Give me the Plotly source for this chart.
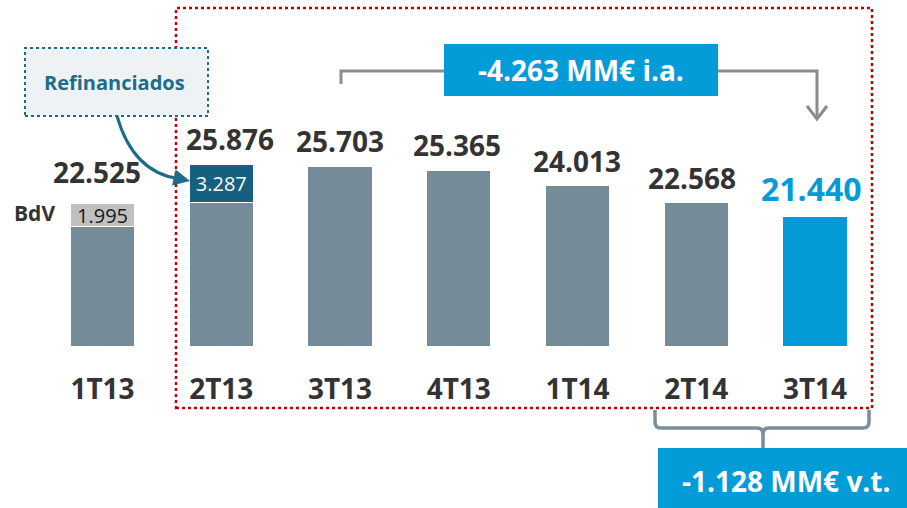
import plotly.graph_objects as go

# ---------------- data ----------------
categories = ["1T13", "2T13", "3T13", "4T13", "1T14", "2T14", "3T14"]
totals = [22525, 25876, 25703, 25365, 24013, 22568, 21440]          # MM€ (millions)
segment_values = [1995, 3287, 0, 0, 0, 0, 0]                        # BdV / Refinanciados
segment_labels = ["1.995", "3.287", "", "", "", "", ""]
yoy_label = "-4.263 MM€ i.a."
qoq_label = "-1.128 MM€ v.t."
refin_label = "Refinanciados"
bdv_label = "BdV"

# ---------------- styles ----------------
W, H = 907, 508
BOTTOM = 346                      # pixel of axis baseline
Y0 = 10350                        # value at baseline
PX_PER_UNIT = 11.72 / 1000
X0_PX, STEP_PX = 102.5, 118.75

GRAY_BAR = "#758c98"
BLUE = "#039bd8"
DARK_TEAL = "#16607f"
LIGHT_GRAY = "#c0c0c0"
TXT = "#333333"
FONT = "Open Sans"

def fmt(v):
    return f"{v:,}".replace(",", ".")

def px(x):
    return x / W

def py(y):
    return (BOTTOM - y) / BOTTOM

main_vals = [t - s for t, s in zip(totals, segment_values)]
main_colors = [GRAY_BAR] * 6 + [BLUE]
seg_colors = [LIGHT_GRAY, DARK_TEAL] + [GRAY_BAR] * 5
seg_text_colors = ["#1a1a1a", "white"] + ["white"] * 5
xs = list(range(len(categories)))

fig = go.Figure()
fig.add_trace(go.Bar(
    x=xs, y=main_vals, width=0.54,
    marker=dict(color=main_colors, line=dict(color="white", width=1)),
    hoverinfo="skip", showlegend=False,
))
fig.add_trace(go.Bar(
    x=xs, y=segment_values, width=0.54,
    marker=dict(color=seg_colors, line=dict(color="white", width=1)),
    text=segment_labels, textposition="inside", insidetextanchor="middle",
    constraintext="none",
    textfont=dict(family=FONT, size=20, color=seg_text_colors),
    hoverinfo="skip", showlegend=False,
))

annotations = []
x_shifts = [-6, 9, 0, -2, -1, -4, -4]
y_shifts = [10, 4, 4, 4, 4, 4, 4]
for i, t in enumerate(totals):
    last = i == len(totals) - 1
    annotations.append(dict(
        x=i, y=t, xref="x", yref="y", text=f"<b>{fmt(t)}</b>", showarrow=False,
        yanchor="bottom", xanchor="center", xshift=x_shifts[i], yshift=y_shifts[i],
        font=dict(family=FONT, size=32 if last else 28, color=BLUE if last else TXT),
    ))

def label(x, y, text, size, color):
    return dict(x=px(x), y=py(y), xref="paper", yref="paper", text=text,
                showarrow=False, xanchor="center", yanchor="middle",
                font=dict(family=FONT, size=size, color=color))

annotations.append(label(34, 213, f"<b>{bdv_label}</b>", 21, TXT))
annotations.append(label(115, 82, f"<b>{refin_label}</b>", 20, "#1f6b8a"))
annotations.append(label(581, 70, f"<b>{yoy_label}</b>", 28, "white"))
annotations.append(label(786, 481, f"<b>{qoq_label}</b>", 28, "white"))
# curved arrow head
annotations.append(dict(x=px(190), y=py(181), xref="paper", yref="paper",
                        ax=-14, ay=-3, axref="pixel", ayref="pixel", text="",
                        showarrow=True, arrowhead=2, arrowsize=1.1, arrowwidth=3,
                        arrowcolor="#1f6b8a"))

def path(points):
    s = f"M {px(points[0][0])} {py(points[0][1])}"
    for p in points[1:]:
        s += f" L {px(p[0])} {py(p[1])}"
    return s

shapes = []
# red dotted frame
shapes.append(dict(type="rect", xref="paper", yref="paper",
                   x0=px(176), x1=px(872), y0=py(408), y1=py(8),
                   line=dict(color="#c00000", width=2.5, dash="dot"),
                   fillcolor="rgba(0,0,0,0)"))
# refinanciados box
shapes.append(dict(type="rect", xref="paper", yref="paper",
                   x0=px(25), x1=px(208), y0=py(116), y1=py(48),
                   line=dict(color="#1f6b8a", width=2, dash="dot"),
                   fillcolor="#eef2f4"))
# curved arrow
curve = (f"M {px(117)} {py(116)} Q {px(133)} {py(172)} {px(178)} {py(178.5)}")
shapes.append(dict(type="path", xref="paper", yref="paper", path=curve,
                   line=dict(color="#1f6b8a", width=3)))
# top bracket
shapes.append(dict(type="path", xref="paper", yref="paper",
                   path=path([(341, 84), (341, 71), (817, 71), (817, 119)]),
                   line=dict(color="#8c8c8c", width=3)))
shapes.append(dict(type="path", xref="paper", yref="paper",
                   path=path([(807, 106), (817, 119), (827, 106)]),
                   line=dict(color="#8c8c8c", width=3)))
# top blue box
shapes.append(dict(type="rect", xref="paper", yref="paper",
                   x0=px(444), x1=px(718), y0=py(96), y1=py(44),
                   line=dict(width=0), fillcolor=BLUE))
# bottom brace
brace = (f"M {px(655)} {py(410)} L {px(655)} {py(422)} "
         f"Q {px(655)} {py(428)} {px(661)} {py(428)} L {px(757)} {py(428)} "
         f"Q {px(763)} {py(428)} {px(763)} {py(434)} L {px(763)} {py(449)} "
         f"M {px(763)} {py(434)} Q {px(763)} {py(428)} {px(769)} {py(428)} "
         f"L {px(863)} {py(428)} Q {px(869)} {py(428)} {px(869)} {py(422)} "
         f"L {px(869)} {py(410)}")
shapes.append(dict(type="path", xref="paper", yref="paper", path=brace,
                   line=dict(color="#7a8e99", width=3.5)))
# bottom blue box
shapes.append(dict(type="rect", xref="paper", yref="paper",
                   x0=px(658), x1=px(912), y0=py(512), y1=py(448),
                   line=dict(width=0), fillcolor=BLUE))

x_lo = -X0_PX / STEP_PX
x_hi = (W - X0_PX) / STEP_PX
y_hi = Y0 + BOTTOM / PX_PER_UNIT

fig.update_layout(
    width=W, height=H,
    margin=dict(l=0, r=0, t=0, b=H - BOTTOM, pad=0),
    paper_bgcolor="white", plot_bgcolor="white",
    barmode="stack", showlegend=False,
    font=dict(family=FONT, color=TXT),
    xaxis=dict(range=[x_lo, x_hi], tickvals=xs,
               ticktext=[f"<b>{c}</b>" for c in categories],
               tickfont=dict(family=FONT, size=28, color=TXT),
               showgrid=False, zeroline=False, showline=False, ticks="",
               ticklabelstandoff=24, fixedrange=True),
    yaxis=dict(range=[Y0, y_hi], visible=False, fixedrange=True),
    annotations=annotations,
    shapes=shapes,
)

fig.write_html("out.html", config={"displayModeBar": False},
               post_script="document.body.style.margin='0';")
